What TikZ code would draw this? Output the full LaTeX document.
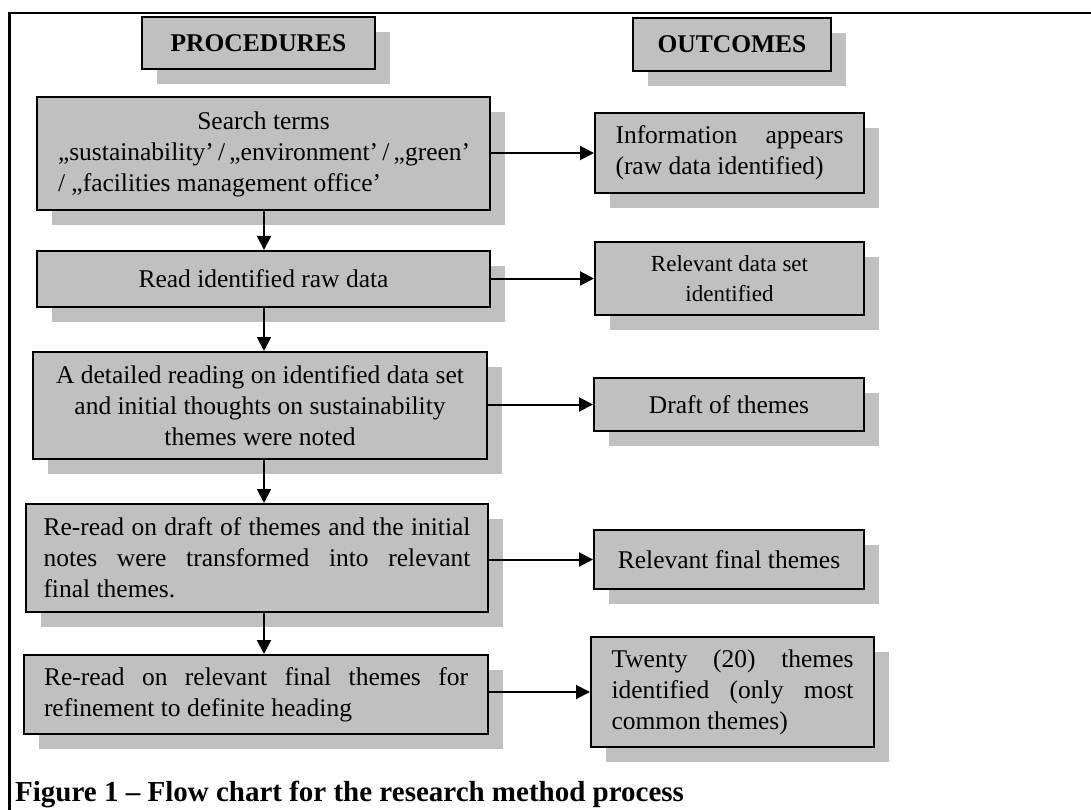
\documentclass[tikz,border=0pt]{standalone}
\usepackage{fontspec}
\setmainfont{Liberation Serif}
\usetikzlibrary{arrows.meta,shadows}
\definecolor{boxgray}{HTML}{C0C0C0}
% one justified line, stretched to the full text width
\newcommand\jline[1]{\makebox[\hsize][s]{#1}}
\tikzset{
  stage/.style={draw=black, line width=2pt, fill=boxgray, inner sep=0pt,
    general shadow={fill=boxgray, shadow xshift=15pt, shadow yshift=-15pt},
    font=\fontsize{25.5}{31}\selectfont},
  header/.style={stage, font=\fontsize{25.5}{31}\selectfont\bfseries},
  flow/.style={line width=2pt, -{Triangle[length=14pt,width=14pt]}},
  frameline/.style={line width=2.5pt}
}
\begin{document}
\begin{tikzpicture}[x=1pt,y=-1pt]
\useasboundingbox (0,0) rectangle (1091,810);

% open frame: top and left sides
\coordinate (ftr) at (1091,13);
\coordinate (ftl) at (9.5,13);
\coordinate (fbl) at (9.5,810);
\draw[frameline] (ftr) -- (ftl) -- (fbl);

% column headings
\node[header, minimum width=233, minimum height=52] (proc) at (258.5,43) {PROCEDURES};
\node[header, minimum width=198, minimum height=53] (outc) at (732,44.5) {OUTCOMES};

% procedures
\node[stage, minimum width=453, minimum height=113, text width=411, align=flush left] (search) at (263.5,154)
  {\makebox[\hsize]{Search terms}\\
   \jline{„sustainability’ / „environment’ / „green’}\\
   / „facilities management office’};
\node[stage, minimum width=453, minimum height=56] (read) at (263.5,279)
  {Read identified raw data};
\node[stage, minimum width=454, minimum height=107, align=flush center] (detail) at (260,405.5)
  {A detailed reading on identified data set\\
   and initial thoughts on sustainability\\
   themes were noted};
\node[stage, minimum width=462, minimum height=108, text width=427, align=flush left] (reread) at (257,558)
  {\jline{Re-read on draft of themes and the initial}\\
   \jline{notes were transformed into relevant}\\
   final themes.};
\node[stage, minimum width=464, minimum height=79, text width=424, align=flush left] (refine) at (256,694.5)
  {\jline{Re-read on relevant final themes for}\\
   refinement to definite heading};

% outcomes
\node[stage, minimum width=269, minimum height=80, text width=228, align=flush left] (info) at (729.5,153)
  {\jline{Information appears}\\(raw data identified)};
\node[stage, minimum width=269, minimum height=73, align=flush center,
      font=\fontsize{23}{30}\selectfont] (dataset) at (729.5,278.5)
  {Relevant data set\\identified};
\node[stage, minimum width=270, minimum height=53] (draft) at (729,404.5) {Draft of themes};
\node[stage, minimum width=270, minimum height=59] (final) at (729,559.5) {Relevant final themes};
\node[stage, minimum width=283, minimum height=110, text width=242, align=flush left] (twenty) at (732.5,692)
  {\jline{Twenty (20) themes}\\
   \jline{identified (only most}\\
   common themes)};

% vertical flow of the procedures
\coordinate (vx) at (264,0);
\draw[flow] (search.south -| vx) -- (read.north -| vx);
\draw[flow] (read.south -| vx) -- (detail.north -| vx);
\draw[flow] (detail.south -| vx) -- (reread.north -| vx);
\draw[flow] (reread.south -| vx) -- (refine.north -| vx);

% procedure -> outcome
\draw[flow] (search.east |- info.west) -- (info.west);
\draw[flow] (read.east |- dataset.west) -- (dataset.west);
\draw[flow] (detail.east |- draft.west) -- (draft.west);
\draw[flow] (reread.east |- final.west) -- (final.west);
\draw[flow] (refine.east |- twenty.west) -- (twenty.west);

% caption
\node[anchor=base west, inner sep=0pt, font=\fontsize{29}{34}\selectfont\bfseries] (caption) at (15,801)
  {Figure 1 – Flow chart for the research method process};
\end{tikzpicture}
\end{document}
